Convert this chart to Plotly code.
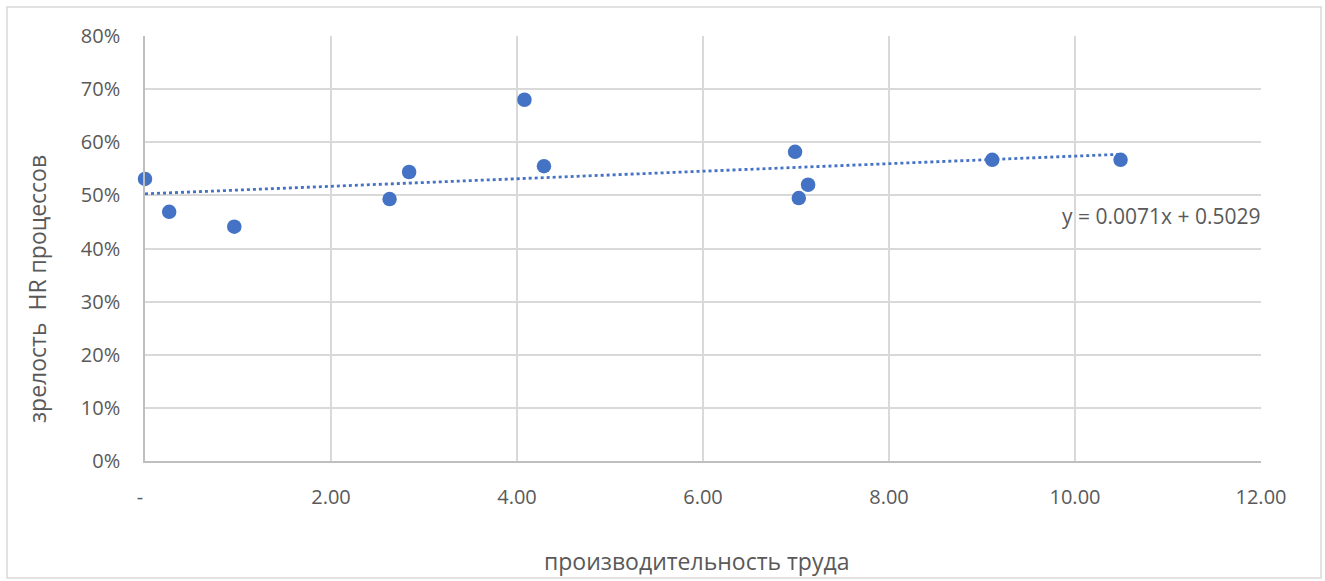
import plotly.graph_objects as go

# Data
productivity = [0.00, 0.26, 0.96, 2.63, 2.84, 4.08, 4.29, 6.99, 7.03, 7.13, 9.11, 10.49]
hr_maturity = [0.531, 0.469, 0.441, 0.493, 0.544, 0.680, 0.555, 0.582, 0.495, 0.520, 0.567, 0.567]

trend_slope = 0.0071
trend_intercept = 0.5029
trend_label = "y = 0.0071x + 0.5029"

x_tickvals = [0, 2, 4, 6, 8, 10, 12]
x_ticktext = ["-\u2002", "2.00", "4.00", "6.00", "8.00", "10.00", "12.00"]
y_tickvals = [0, 0.1, 0.2, 0.3, 0.4, 0.5, 0.6, 0.7, 0.8]
y_ticktext = ["0%", "10%", "20%", "30%", "40%", "50%", "60%", "70%", "80%"]

x_title = "производительность труда"
y_title = "зрелость  HR процессов"

blue = "#4472C4"
grey_text = "#595959"
grid = "#D9D9D9"
font_family = "Open Sans, Noto Sans, Liberation Sans, sans-serif"

trend_x = [min(productivity), max(productivity)]
trend_y = [trend_slope * v + trend_intercept for v in trend_x]

fig = go.Figure()
fig.add_trace(go.Scatter(
    x=trend_x, y=trend_y, mode="lines",
    line=dict(color=blue, width=2.8, dash="dot"),
    showlegend=False, hoverinfo="skip",
))
fig.add_trace(go.Scatter(
    x=productivity, y=hr_maturity, mode="markers",
    marker=dict(color=blue, size=14.5, line=dict(width=0)),
    showlegend=False, cliponaxis=False,
))

W, H = 1325, 581
L, R, T, B = 145, 1261, 36, 461
pw, ph = R - L, B - T

def px_x(p):
    return (p - L) / pw

def px_y(p):
    return (B - p) / ph

fig.update_layout(
    width=W, height=H,
    margin=dict(l=L, r=W - R, t=T, b=H - B),
    paper_bgcolor="white", plot_bgcolor="white",
    font=dict(family=font_family, size=20, color=grey_text),
    xaxis=dict(
        range=[0, 12], tickvals=x_tickvals, ticktext=x_ticktext,
        showgrid=True, gridcolor=grid, gridwidth=1.5,
        showline=True, linecolor="#BFBFBF", linewidth=1.5,
        zeroline=False, ticks="", ticklabelstandoff=17,
        tickfont=dict(size=20, color=grey_text),
    ),
    yaxis=dict(
        range=[0, 0.8], tickvals=y_tickvals, ticktext=y_ticktext,
        showgrid=True, gridcolor=grid, gridwidth=1.5,
        showline=True, linecolor="#BFBFBF", linewidth=1.5,
        zeroline=False, ticks="", ticklabelstandoff=19,
        tickfont=dict(size=20, color=grey_text),
    ),
    shapes=[dict(
        type="rect", xref="paper", yref="paper",
        x0=px_x(7), x1=px_x(1321), y0=px_y(578), y1=px_y(7),
        line=dict(color="#D9D9D9", width=1.5), fillcolor="rgba(0,0,0,0)",
        layer="below",
    )],
    annotations=[
        dict(text=x_title, xref="paper", yref="paper",
             x=px_x(696), y=px_y(561), showarrow=False,
             xanchor="center", yanchor="middle",
             font=dict(size=23, color=grey_text)),
        dict(text=y_title, xref="paper", yref="paper",
             x=px_x(37), y=px_y(289), showarrow=False, textangle=-90,
             xanchor="center", yanchor="middle",
             font=dict(size=23, color=grey_text)),
        dict(text=trend_label, xref="paper", yref="paper",
             x=px_x(1262), y=px_y(216), showarrow=False,
             xanchor="right", yanchor="middle",
             font=dict(size=21, color=grey_text)),
    ],
)

fig.write_html("out.html", post_script="document.body.style.margin='0';",
               config={"displayModeBar": False})
